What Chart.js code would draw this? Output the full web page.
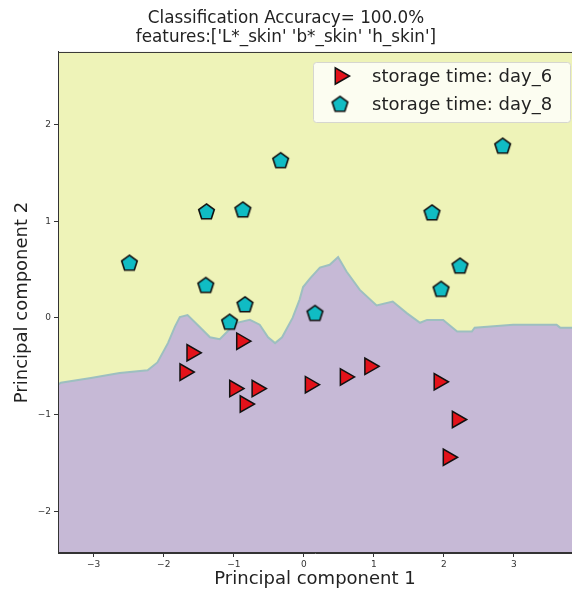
<!DOCTYPE html>
<html>
<head>
<meta charset="utf-8">
<script src="https://cdn.jsdelivr.net/npm/chart.js@4/dist/chart.umd.min.js"></script>
<style>
  body { margin: 0; background: #fff; }
  canvas { display: block; }
</style>
</head>
<body>
<canvas id="pcaChart" width="572" height="590"></canvas>
<script>
// PCA scores per storage day
const day6X = [-1.60, -1.70, -0.89, -0.99, -0.67, -0.84, 0.09, 0.59, 0.94, 1.93, 2.19, 2.06];
const day6Y = [-0.36, -0.56, -0.24, -0.73, -0.73, -0.89, -0.69, -0.61, -0.50, -0.66, -1.05, -1.44];
const day8X = [-2.49, -0.33, -1.39, -0.87, -1.40, -1.06, -0.84, 0.16, 1.83, 2.23, 1.96, 2.84];
const day8Y = [0.57, 1.63, 1.10, 1.12, 0.34, -0.04, 0.14, 0.05, 1.09, 0.54, 0.30, 1.78];

// classifier decision boundary (day_6 region below it)
const boundaryX = [-3.51, -3.47, -3.04, -2.63, -2.23, -2.09, -1.94, -1.84, -1.77, -1.66, -1.49, -1.34, -1.20, -1.09, -0.96, -0.77, -0.63, -0.51, -0.41, -0.31, -0.16, -0.06, -0.01, 0.09, 0.23, 0.37, 0.49, 0.61, 0.80, 1.04, 1.27, 1.47, 1.66, 1.76, 1.99, 2.19, 2.40, 2.44, 2.99, 3.61, 3.66, 3.83];
const boundaryY = [-0.69, -0.67, -0.62, -0.57, -0.54, -0.46, -0.26, -0.09, 0.01, 0.03, -0.09, -0.20, -0.22, -0.14, -0.05, -0.02, -0.07, -0.20, -0.26, -0.20, 0.00, 0.19, 0.32, 0.41, 0.52, 0.55, 0.63, 0.48, 0.29, 0.13, 0.17, 0.05, -0.05, -0.02, -0.02, -0.14, -0.14, -0.10, -0.07, -0.07, -0.10, -0.10];

const seriesLabels = ['storage time: day_6', 'storage time: day_8'];
const titleLines = ['Classification Accuracy= 100.0%', "features:['L*_skin' 'b*_skin' 'h_skin']"];

const toPoints = (xs, ys) => xs.map((x, i) => ({ x: x, y: ys[i] }));
const FONT = '"DejaVu Sans", "Liberation Sans", sans-serif';

// pentagon marker image
function makePentagon(r) {
  const size = Math.ceil(r * 2 + 4);
  const c = document.createElement('canvas');
  c.width = size; c.height = size;
  const g = c.getContext('2d');
  g.beginPath();
  for (let k = 0; k < 5; k++) {
    const a = -Math.PI / 2 + k * 2 * Math.PI / 5;
    const px = size / 2 + r * Math.cos(a);
    const py = size / 2 + 0.6 + r * Math.sin(a);
    if (k === 0) g.moveTo(px, py); else g.lineTo(px, py);
  }
  g.closePath();
  g.fillStyle = '#10bcc4';
  g.fill();
  g.lineWidth = 1.6;
  g.strokeStyle = '#111';
  g.stroke();
  return c;
}
const pentagon = makePentagon(8.2);

const legendRows = [76, 104];

const areaPlugin = {
  id: 'areaPlugin',
  beforeDraw(chart) {
    const { ctx, chartArea: a } = chart;
    ctx.save();
    ctx.fillStyle = '#eef3b8';
    ctx.fillRect(a.left, a.top, a.right - a.left, a.bottom - a.top);
    ctx.restore();
  },
  afterDraw(chart) {
    const { ctx, chartArea: a } = chart;
    ctx.save();
    ctx.strokeStyle = '#333';
    ctx.lineWidth = 1;
    ctx.strokeRect(a.left + 0.5, a.top + 0.5, a.right - a.left, a.bottom - a.top - 1);

    // legend box
    ctx.beginPath();
    ctx.roundRect(313.5, 62.5, 257, 60, 3);
    ctx.fillStyle = 'rgba(255,255,255,0.8)';
    ctx.fill();
    ctx.strokeStyle = '#d6d6d0';
    ctx.stroke();

    const ds = chart.data.datasets;
    [1, 2].forEach((di, i) => {
      const d = ds[di];
      ctx.save();
      ctx.fillStyle = d.backgroundColor;
      ctx.strokeStyle = d.borderColor;
      ctx.lineWidth = d.borderWidth;
      Chart.helpers.drawPoint(ctx, {
        pointStyle: d.pointStyle, radius: d.pointRadius, rotation: d.rotation || 0,
        borderWidth: d.borderWidth
      }, 340, legendRows[i]);
      ctx.restore();
    });

    ctx.font = '18px ' + FONT;
    ctx.fillStyle = '#222';
    ctx.textBaseline = 'middle';
    seriesLabels.forEach((t, i) => ctx.fillText(t, 372, legendRows[i] + 1));
    ctx.restore();
  }
};

const minusTick = v => String(v).replace('-', '\u2212');

new Chart(document.getElementById('pcaChart'), {
  type: 'scatter',
  data: {
    datasets: [
      {
        type: 'line',
        label: 'boundary',
        data: toPoints(boundaryX, boundaryY),
        borderColor: '#9dbfc0',
        borderWidth: 2,
        backgroundColor: '#c6b9d6',
        fill: 'start',
        pointRadius: 0,
        tension: 0,
        order: 3
      },
      {
        label: seriesLabels[0],
        data: toPoints(day6X, day6Y),
        pointStyle: 'triangle',
        rotation: 90,
        pointRadius: 9.5,
        pointHoverRadius: 9.5,
        backgroundColor: '#e3121a',
        borderColor: '#111',
        borderWidth: 1.5,
        order: 1
      },
      {
        label: seriesLabels[1],
        data: toPoints(day8X, day8Y),
        pointStyle: pentagon,
        pointRadius: 9,
        pointHoverRadius: 9,
        backgroundColor: '#10bcc4',
        borderColor: '#111',
        borderWidth: 1.6,
        order: 2
      }
    ]
  },
  options: {
    responsive: false,
    animation: false,
    events: [],
    layout: { autoPadding: false, padding: 0 },
    plugins: {
      legend: { display: false },
      tooltip: { enabled: false },
      title: {
        display: true,
        text: titleLines,
        color: '#222',
        font: { family: FONT, size: 16.8, weight: 'normal', lineHeight: 1.1 },
        padding: { top: 9.5, bottom: 5.5 }
      }
    },
    scales: {
      x: {
        type: 'linear',
        min: -3.51,
        max: 3.83,
        afterFit(scale) { scale.height = 37; },
        ticks: {
          stepSize: 1,
          includeBounds: false,
          padding: 2,
          color: '#333',
          font: { family: FONT, size: 9 },
          maxRotation: 0,
          callback: minusTick
        },
        grid: { drawOnChartArea: false, drawTicks: true, tickLength: 4, color: '#333' },
        border: { display: true, color: '#333' },
        title: {
          display: true,
          text: 'Principal component 1',
          color: '#222',
          font: { family: FONT, size: 18 },
          padding: { top: 0, bottom: 0 }
        }
      },
      y: {
        type: 'linear',
        min: -2.43,
        max: 2.75,
        afterFit(scale) { scale.width = 58; },
        ticks: {
          stepSize: 1,
          includeBounds: false,
          padding: 3,
          color: '#333',
          font: { family: FONT, size: 9 },
          callback: minusTick
        },
        grid: { drawOnChartArea: false, drawTicks: true, tickLength: 4, color: '#333' },
        border: { display: true, color: '#333' },
        title: {
          display: true,
          text: 'Principal component 2',
          color: '#222',
          font: { family: FONT, size: 18 },
          padding: { top: 12, bottom: 0 }
        }
      }
    }
  },
  plugins: [areaPlugin]
});
</script>
</body>
</html>
